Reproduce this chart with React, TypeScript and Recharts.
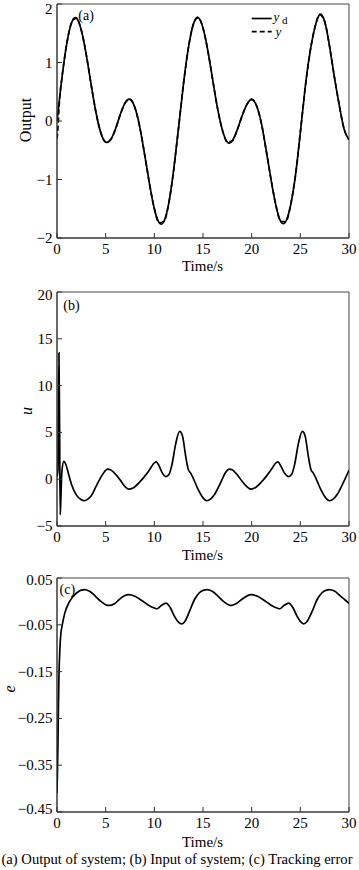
import React from 'react';
import { LineChart, Line, XAxis, YAxis, ReferenceArea } from 'recharts';

// ---------- data ----------
const timeA = [0, 0.5, 1, 1.5, 2, 2.5, 3, 3.5, 4, 4.5, 5, 5.5, 6, 6.5, 7, 7.5, 8, 8.5, 9, 9.5, 10, 10.5, 11, 11.5, 12, 12.5, 13, 13.5, 14, 14.5, 15, 15.5, 16, 16.5, 17, 17.5, 18, 18.5, 19, 19.5, 20, 20.5, 21, 21.5, 22, 22.5, 23, 23.5, 24, 24.5, 25, 25.5, 26, 26.5, 27, 27.5, 28, 28.5, 29, 29.5, 30];
const ydVals = [0, 0.73, 1.32, 1.68, 1.76, 1.55, 1.14, 0.63, 0.15, -0.2, -0.36, -0.32, -0.14, 0.11, 0.31, 0.37, 0.23, -0.1, -0.57, -1.07, -1.5, -1.74, -1.71, -1.39, -0.82, -0.1, 0.64, 1.25, 1.65, 1.77, 1.59, 1.2, 0.7, 0.21, -0.16, -0.36, -0.34, -0.16, 0.08, 0.28, 0.37, 0.26, -0.04, -0.51, -1.01, -1.45, -1.72, -1.72, -1.44, -0.93, -0.2, 0.57, 1.18, 1.6, 1.82, 1.7, 1.28, 0.75, 0.27, -0.14, -0.32];
const yTransientT = [0, 0.1, 0.2, 0.3];
const yTransientV = [-0.3, -0.12, 0.2, 0.45];

const timeB = [0, 0.1, 0.2, 0.27, 0.33, 0.4, 0.5, 0.7, 0.9, 1.2, 1.5, 2, 2.5, 2.8, 3.2, 3.5, 4, 4.5, 5, 5.2, 5.5, 6, 6.5, 7, 7.4, 7.8, 8.5, 9, 9.5, 10, 10.2, 10.5, 10.8, 11.2, 11.5, 11.8, 12.2, 12.6, 12.9, 13.2, 13.5, 13.7, 14, 14.5, 15, 15.4, 15.8, 16.2, 16.8, 17.3, 17.7, 18, 18.5, 19, 19.5, 19.9, 20.3, 21, 21.5, 22, 22.5, 22.7, 23, 23.4, 23.8, 24.1, 24.4, 24.8, 25.2, 25.5, 25.8, 26.1, 26.3, 26.6, 27.1, 27.6, 28, 28.4, 28.8, 29.4, 30];
const uVals = [0.3, 1.0, 13.5, 5, -3.8, -2, 0.8, 1.9, 1.6, 0.5, -0.6, -1.7, -2.2, -2.3, -2.1, -1.8, -0.8, 0.2, 0.95, 1.07, 1.0, 0.55, -0.1, -0.8, -1.07, -0.95, -0.3, 0.3, 1.0, 1.75, 1.85, 1.4, 0.7, 0.28, 0.5, 1.5, 3.8, 5.1, 4.6, 2.6, 1.0, 0.7, 0.1, -1.1, -2.0, -2.3, -2.1, -1.6, -0.4, 0.7, 1.07, 1.0, 0.5, -0.2, -0.8, -1.07, -0.95, -0.3, 0.3, 1.0, 1.75, 1.85, 1.4, 0.6, 0.28, 0.5, 1.5, 3.8, 5.1, 4.6, 2.6, 1.0, 0.7, 0.1, -1.1, -2.0, -2.3, -2.1, -1.6, -0.4, 0.96];

const timeC = [0, 0.05, 0.1, 0.15, 0.2, 0.3, 0.4, 0.5, 0.8, 1.3, 2, 2.8, 3.3, 3.9, 4.5, 5, 5.4, 5.9, 6.5, 7.3, 8, 8.7, 9.4, 10, 10.3, 10.7, 11.2, 11.6, 12.1, 12.5, 12.8, 13.1, 13.6, 14.1, 14.6, 15.1, 15.4, 15.9, 16.5, 17.1, 17.6, 17.9, 18.4, 19.1, 19.9, 20.6, 21.3, 22, 22.6, 22.9, 23.3, 23.8, 24.2, 24.7, 25.1, 25.35, 25.65, 26.2, 26.7, 27.2, 27.7, 28, 28.5, 29.1, 29.6, 30];
const eVals = [-0.41, -0.36, -0.3, -0.22, -0.16, -0.1, -0.068, -0.055, -0.025, 0.0, 0.018, 0.025, 0.022, 0.012, 0.0, -0.007, -0.0087, -0.005, 0.006, 0.0143, 0.011, 0.002, -0.008, -0.014, -0.0157, -0.009, -0.0036, -0.012, -0.033, -0.045, -0.048, -0.044, -0.022, 0.003, 0.018, 0.024, 0.025, 0.022, 0.012, 0.0, -0.007, -0.0087, -0.005, 0.006, 0.0143, 0.011, 0.002, -0.008, -0.014, -0.0157, -0.009, -0.0036, -0.012, -0.033, -0.045, -0.048, -0.044, -0.022, 0.003, 0.018, 0.024, 0.025, 0.022, 0.012, 0.003, -0.004];

const xTicks = [0, 5, 10, 15, 20, 25, 30];
const yTicksA = [-2, -1, 0, 1, 2];
const yTicksB = [-5, 0, 5, 10, 15, 20];
const yTicksC = [-0.45, -0.35, -0.25, -0.15, -0.05, 0.05];

const xLabel = 'Time/s';
const yLabelA = 'Output';
const yLabelB = 'u';
const yLabelC = 'e';
const caption = '(a) Output of system; (b) Input of system; (c) Tracking error';

// ---------- tables built from arrays ----------
const ydData = timeA.map((t, i) => ({ t, v: ydVals[i] }));
const yData = [
  ...yTransientT.map((t, i) => ({ t, v: yTransientV[i] })),
  ...timeA.filter((t) => t >= 0.5).map((t) => ({ t, v: ydVals[timeA.indexOf(t)] })),
];
const uData = timeB.map((t, i) => ({ t, v: uVals[i] }));
const eData = timeC.map((t, i) => ({ t, v: eVals[i] }));

const FONT = '"Liberation Serif", "Times New Roman", serif';
const AX = '#333';
const fmt = (v: number) => (v < 0 ? '\u2212' + String(Math.abs(v)) : String(v));

function XTick(props: any) {
  const { x, y, payload } = props;
  return (
    <g>
      <line x1={x} y1={y} x2={x} y2={y - 5} stroke={AX} strokeWidth={1} />
      <text x={x} y={y + 16} textAnchor="middle" fontFamily={FONT} fontSize={15} fill="#000">
        {fmt(payload.value)}
      </text>
    </g>
  );
}

function makeYTick(maxTick: number, maxShift: number) {
  return function YTick(props: any) {
    const { x, y, payload } = props;
    const v = payload.value;
    const shift = v === -0.45 ? -3 : v === maxTick ? maxShift : 0;
    return (
      <g>
        <line x1={x} y1={y} x2={x + 5} y2={y} stroke={AX} strokeWidth={1} />
        <text x={x - 4.5} y={y + 5 + shift} textAnchor="end" fontFamily={FONT} fontSize={15} fill="#000">
          {fmt(v)}
        </text>
      </g>
    );
  };
}

function Panel(props: {
  top: number;
  height: number;
  marginTop: number;
  xAxisHeight: number;
  domain: [number, number];
  ticks: number[];
  topShift: number;
  series: { data: any[]; dash?: string; type: any }[];
}) {
  const { top, height, marginTop, xAxisHeight, domain, ticks, topShift, series } = props;
  const YTick = makeYTick(ticks[ticks.length - 1], topShift);
  return (
    <div style={{ position: 'absolute', left: 0, top }}>
      <LineChart width={359} height={height} margin={{ top: marginTop, right: 10, left: 0, bottom: 0 }}>
        <XAxis
          dataKey="t"
          type="number"
          domain={[0, 30]}
          ticks={xTicks}
          height={xAxisHeight}
          tickSize={0}
          tickMargin={0}
          tickLine={false}
          axisLine={{ stroke: AX, strokeWidth: 1 }}
          tick={<XTick />}
          allowDataOverflow
          interval={0}
        />
        <YAxis
          dataKey="v"
          type="number"
          domain={domain}
          ticks={ticks}
          width={57}
          tickSize={0}
          tickMargin={0}
          tickLine={false}
          axisLine={{ stroke: AX, strokeWidth: 1 }}
          tick={<YTick />}
          allowDataOverflow
          interval={0}
        />
        <ReferenceArea x1={0} x2={30} y1={domain[0]} y2={domain[1]} fill="none" stroke="#444" strokeWidth={1} />
        {series.map((s, i) => (
          <Line
            key={i}
            data={s.data}
            dataKey="v"
            type={s.type}
            stroke="#000"
            strokeWidth={1.7}
            strokeDasharray={s.dash}
            dot={false}
            activeDot={false}
            isAnimationActive={false}
          />
        ))}
      </LineChart>
    </div>
  );
}

export default function App() {
  return (
    <div style={{ position: 'absolute', left: 0, top: 0, width: 359, height: 870, background: '#fff' }}>
      <Panel
        top={0}
        height={290}
        marginTop={4}
        xAxisHeight={52}
        domain={[-2, 2]}
        ticks={yTicksA}
        topShift={4.5}
        series={[
          { data: ydData, type: 'natural' },
          { data: yData, type: 'monotone', dash: '5 3' },
        ]}
      />
      <Panel
        top={280}
        height={300}
        marginTop={12}
        xAxisHeight={54}
        domain={[-5, 20]}
        ticks={yTicksB}
        topShift={2.5}
        series={[{ data: uData, type: 'monotone' }]}
      />
      <Panel
        top={565}
        height={305}
        marginTop={13}
        xAxisHeight={58}
        domain={[-0.45, 0.05]}
        ticks={yTicksC}
        topShift={2}
        series={[{ data: eData, type: 'monotone' }]}
      />
      <svg
        width={359}
        height={870}
        style={{ position: 'absolute', left: 0, top: 0, pointerEvents: 'none' }}
        fontFamily={FONT}
      >
        <text x={202.5} y={271} textAnchor="middle" fontSize={15}>{xLabel}</text>
        <text x={202.5} y={560} textAnchor="middle" fontSize={15}>{xLabel}</text>
        <text x={202.5} y={846.5} textAnchor="middle" fontSize={15}>{xLabel}</text>

        <text x={30.5} y={120} textAnchor="middle" fontSize={16} transform="rotate(-90 30.5 120)">{yLabelA}</text>
        <text x={31.5} y={411} textAnchor="middle" fontSize={16} fontStyle="italic" transform="rotate(-90 31.5 411)">{yLabelB}</text>
        <text x={15} y={689} textAnchor="middle" fontSize={16} fontStyle="italic" transform="rotate(-90 15 689)">{yLabelC}</text>

        <text x={78.3} y={20} fontSize={14}>(a)</text>
        <text x={63.3} y={310} fontSize={14}>(b)</text>
        <text x={59.5} y={594} fontSize={14}>(c)</text>

        <line x1={251.7} y1={18.5} x2={271.7} y2={18.5} stroke="#000" strokeWidth={1.7} />
        <text x={273.5} y={21} fontSize={13} fontStyle="italic">y</text>
        <text x={282} y={24} fontSize={11}>d</text>
        <line x1={251.7} y1={31.7} x2={271.7} y2={31.7} stroke="#000" strokeWidth={1.7} strokeDasharray="5 3" />
        <text x={275.5} y={35.5} fontSize={13} fontStyle="italic">y</text>

        <text x={177} y={864} textAnchor="middle" fontSize={14.6}>{caption}</text>
      </svg>
    </div>
  );
}
